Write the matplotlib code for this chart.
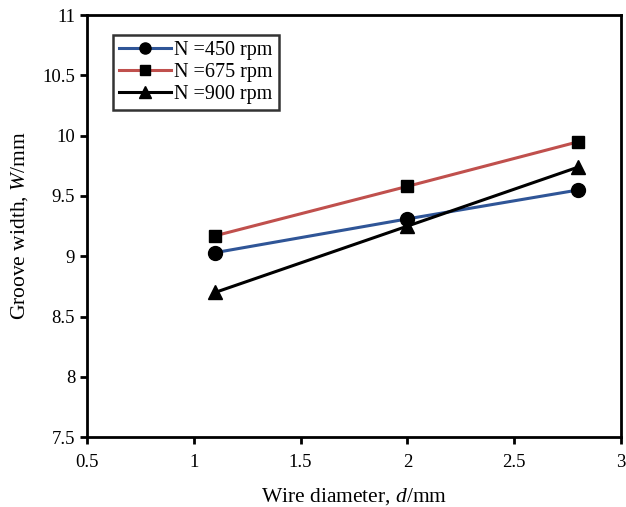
import matplotlib
matplotlib.use("Agg")
import matplotlib.pyplot as plt

plt.rcParams['font.family'] = ['Liberation Serif', 'DejaVu Serif']
plt.rcParams['mathtext.fontset'] = 'custom'
plt.rcParams['mathtext.it'] = 'Liberation Serif:italic'
plt.rcParams['mathtext.rm'] = 'Liberation Serif'

x = [1.1, 2.0, 2.8]
w450 = [9.03, 9.31, 9.55]
w675 = [9.17, 9.58, 9.95]
w900 = [8.70, 9.25, 9.74]
labels = ["N =450 rpm", "N =675 rpm", "N =900 rpm"]

fig = plt.figure(figsize=(6.26, 5.07), dpi=100)
ax = fig.add_axes([0.139, 0.138, 0.853, 0.832])

ax.plot(x, w450, color='#2F5597', lw=2.2, marker='o', ms=10, mfc='black', mec='black', label=labels[0])
ax.plot(x, w675, color='#C0504D', lw=2.2, marker='s', ms=9, mfc='black', mec='black', label=labels[1])
ax.plot(x, w900, color='black', lw=2.2, marker='^', ms=10, mfc='black', mec='black', label=labels[2])

ax.set_xlim(0.5, 3)
ax.set_ylim(7.5, 11)
ax.set_xticks([0.5, 1, 1.5, 2, 2.5, 3])
ax.set_xticklabels(['0.5', '1', '1.5', '2', '2.5', '3'])
ax.set_yticks([7.5, 8, 8.5, 9, 9.5, 10, 10.5, 11])
ax.set_yticklabels(['7.5', '8', '8.5', '9', '9.5', '10', '10.5', '11'])
ax.tick_params(direction='out', length=5, width=2, labelsize=13.5, colors='black')
ax.tick_params(axis='x', pad=7)
for s in ax.spines.values():
    s.set_linewidth(2)
    s.set_color('black')

ax.set_xlabel('Wire diameter, $d$/mm', fontsize=15.5, labelpad=11)
ax.set_ylabel('Groove width, $W$/mm', fontsize=15.5, labelpad=9)

handles, labs = ax.get_legend_handles_labels()
leg = ax.legend(loc='upper left', bbox_to_anchor=(0.048, 0.953), fontsize=14.5,
                frameon=True, fancybox=False, edgecolor='black', handlelength=2.6,
                borderpad=0.3, labelspacing=0.15, handletextpad=0.15, borderaxespad=0,
                markerscale=0.8)
leg.get_frame().set_linewidth(1.8)

fig.savefig('out.png', dpi=100)
